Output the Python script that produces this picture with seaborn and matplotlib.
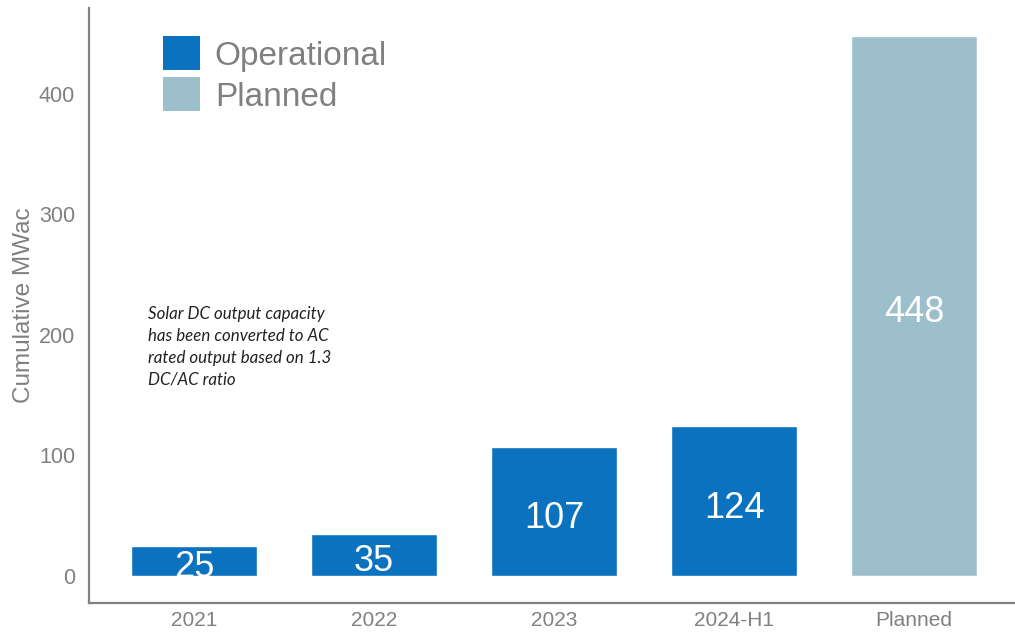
import matplotlib
matplotlib.use("Agg")
import matplotlib.pyplot as plt
from matplotlib.patches import Patch
import seaborn as sns
import pandas as pd

categories = ["2021", "2022", "2023", "2024-H1", "Planned"]
values = [25, 35, 107, 124, 448]
status = ["Operational", "Operational", "Operational", "Operational", "Planned"]
yticks = [0, 100, 200, 300, 400]
note_text = ("Solar DC output capacity\nhas been converted to AC\n"
             "rated output based on 1.3\nDC/AC ratio")

colors = {"Operational": "#0A72BE", "Planned": "#9CBFCB"}
grey = "#808080"

sns.set_theme(style="white")
plt.rcParams["font.family"] = ["Liberation Sans", "DejaVu Sans"]

df = pd.DataFrame({"category": categories, "value": values, "status": status})

fig = plt.figure(figsize=(10.15, 6.32), dpi=100)
ax = fig.add_axes([0.0877, 0.0459, 0.9123, 0.9414])

sns.barplot(data=df, x="category", y="value", hue="status", palette=colors,
            dodge=False, width=0.7, saturation=1, legend=False, ax=ax)

# value labels in the middle of each bar
for i, v in enumerate(values):
    ax.annotate(str(v), xy=(i, v / 2), xytext=(0, -5), textcoords="offset points",
                ha="center", va="center", color="white", fontsize=26)

ax.set_xlim(-0.583, 4.56)
ax.set_ylim(-22.4, 471)
ax.set_yticks(yticks)
ax.set_xlabel("")
ax.set_ylabel("Cumulative MWac", color=grey, fontsize=17.5, labelpad=2.5)
ax.tick_params(axis="both", length=0, colors=grey, labelsize=15.5)
ax.tick_params(axis="y", pad=10)
ax.tick_params(axis="x", pad=6)
for lbl in ax.get_xticklabels():
    lbl.set_fontsize(15)

for side in ["top", "right"]:
    ax.spines[side].set_visible(False)
for side in ["left", "bottom"]:
    ax.spines[side].set_color(grey)
    ax.spines[side].set_linewidth(1.6)

handles = [Patch(facecolor=colors[k], edgecolor="none", label=k)
           for k in ["Operational", "Planned"]]
leg = ax.legend(handles=handles, loc="upper left", bbox_to_anchor=(0.065, 0.975),
                frameon=False, fontsize=24, handlelength=1.12, handleheight=1.2,
                handletextpad=0.45, labelspacing=0.17, borderaxespad=0)
for t in leg.get_texts():
    t.set_color(grey)

ax.text(-0.255, 224, note_text, fontsize=12.2, style="italic",
        family=["Lato", "DejaVu Sans"], color="#222222",
        ha="left", va="top", linespacing=1.45)

fig.savefig("out.png", dpi=100)
